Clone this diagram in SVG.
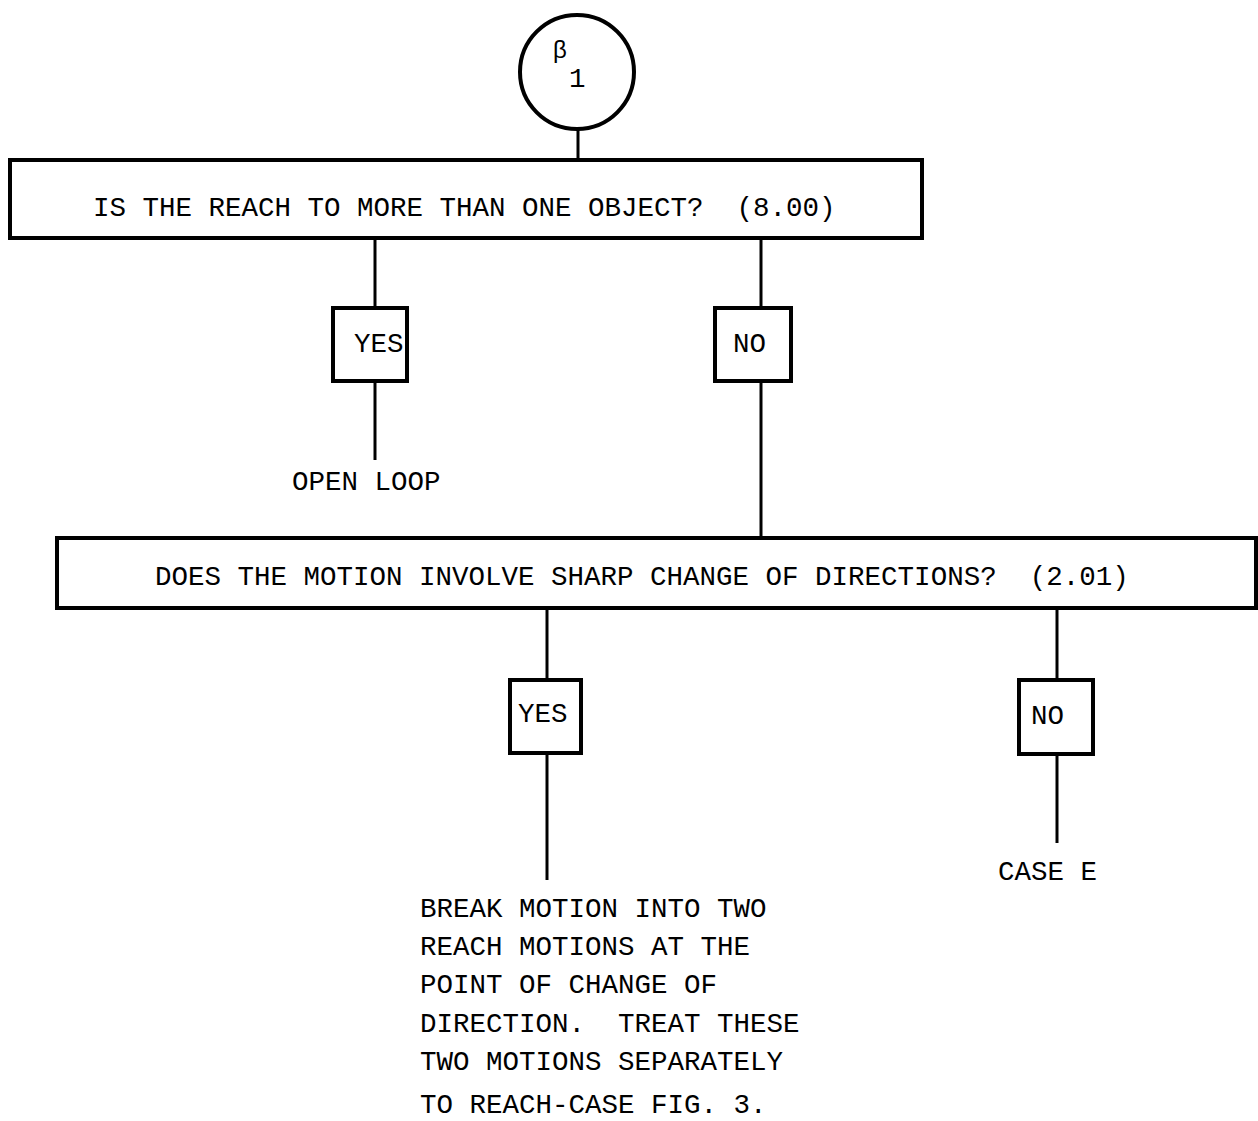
<svg xmlns="http://www.w3.org/2000/svg" width="1258" height="1121" viewBox="0 0 1258 1121">
<style>
.box{fill:none;stroke:#000;stroke-width:4}
.ln{fill:none;stroke:#000;stroke-width:3}
text{font-family:"Liberation Mono","DejaVu Sans Mono",monospace;font-size:27.5px;fill:#000;white-space:pre}
</style>
<rect width="1258" height="1121" fill="#fff"/>
<g id="connectors">
<line class="ln" x1="578" y1="130" x2="578" y2="160"/>
<line class="ln" x1="375" y1="238" x2="375" y2="308"/>
<line class="ln" x1="375" y1="381" x2="375" y2="460"/>
<line class="ln" x1="761" y1="238" x2="761" y2="308"/>
<line class="ln" x1="761" y1="381" x2="761" y2="538"/>
<line class="ln" x1="547" y1="608" x2="547" y2="680"/>
<line class="ln" x1="547" y1="753" x2="547" y2="880"/>
<line class="ln" x1="1057" y1="608" x2="1057" y2="680"/>
<line class="ln" x1="1057" y1="754" x2="1057" y2="843"/>
</g>
<g id="start">
<circle class="box" cx="577" cy="72" r="57"/>
<text x="553" y="58" style="font-family:'Liberation Sans',sans-serif;font-size:24px">β</text>
<text x="569" y="87">1</text>
</g>
<g id="q1">
<rect class="box" x="10" y="160" width="912" height="78"/>
<text x="93" y="216" xml:space="preserve">IS THE REACH TO MORE THAN ONE OBJECT?  (8.00)</text>
</g>
<g id="yes1">
<rect class="box" x="333" y="308" width="74" height="73"/>
<text x="354" y="352">YES</text>
</g>
<g id="openloop">
<text x="292" y="490">OPEN LOOP</text>
</g>
<g id="no1">
<rect class="box" x="715" y="308" width="76" height="73"/>
<text x="733" y="352">NO</text>
</g>
<g id="q2">
<rect class="box" x="57" y="538" width="1199" height="70"/>
<text x="155" y="585" xml:space="preserve">DOES THE MOTION INVOLVE SHARP CHANGE OF DIRECTIONS?  (2.01)</text>
</g>
<g id="yes2">
<rect class="box" x="510" y="680" width="71" height="73"/>
<text x="518" y="722">YES</text>
</g>
<g id="no2">
<rect class="box" x="1019" y="680" width="74" height="74"/>
<text x="1031" y="724">NO</text>
</g>
<g id="casee">
<text x="998" y="880">CASE E</text>
</g>
<g id="breakmotion">
<text x="420" y="917">BREAK MOTION INTO TWO</text>
<text x="420" y="955">REACH MOTIONS AT THE</text>
<text x="420" y="993">POINT OF CHANGE OF</text>
<text x="420" y="1032" xml:space="preserve">DIRECTION.  TREAT THESE</text>
<text x="420" y="1070">TWO MOTIONS SEPARATELY</text>
<text x="420" y="1113">TO REACH-CASE FIG. 3.</text>
</g>
</svg>
